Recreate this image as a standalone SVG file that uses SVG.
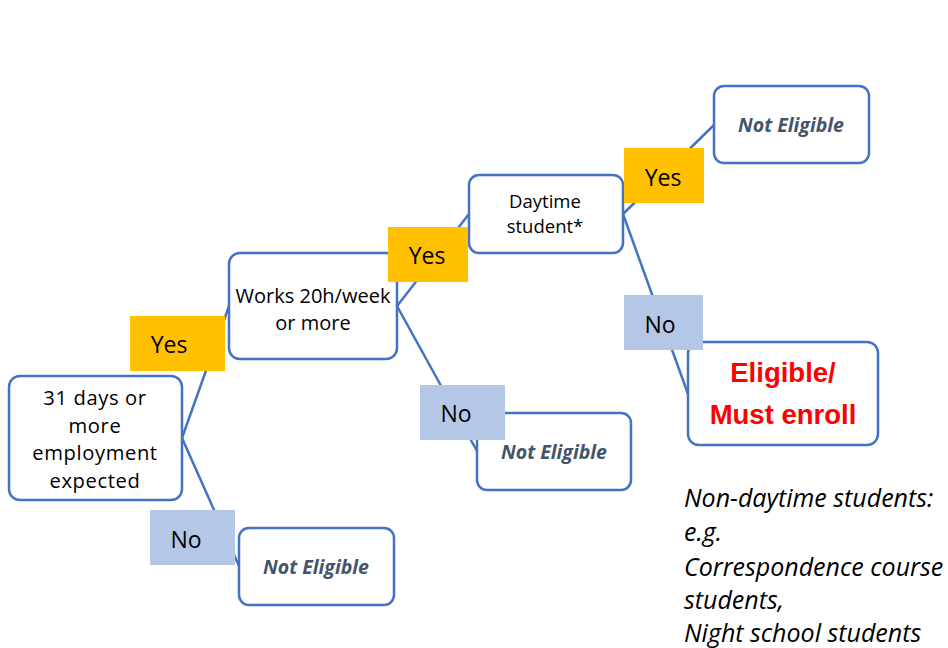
<svg xmlns="http://www.w3.org/2000/svg" width="948" height="648" viewBox="0 0 948 648">
<style>
.box{fill:#fff;stroke:#4472C4;stroke-width:2.5}
.ln{stroke:#4472C4;stroke-width:2.5;fill:none}
.t{font-family:"Open Sans","Liberation Sans",sans-serif;fill:#000;text-anchor:middle}
.ne{font-family:"Open Sans","Liberation Sans",sans-serif;font-weight:bold;font-style:italic;fill:#44546A;font-size:19.5px;text-anchor:middle}
.yes{fill:#FFC000}
.no{fill:#B4C7E7}
.lbl{font-family:"Open Sans","Liberation Sans",sans-serif;font-size:23px;fill:#000;text-anchor:middle}
.el{font-family:"Liberation Sans",Arial,sans-serif;font-weight:bold;font-size:27.5px;fill:#FF0000;text-anchor:middle}
.note{font-family:"Open Sans","Liberation Sans",sans-serif;font-style:italic;font-size:25px;fill:#000}
</style>
<rect width="948" height="648" fill="#fff"/>
<g id="connectors">
<line class="ln" x1="182" y1="438" x2="229" y2="306"/>
<line class="ln" x1="182" y1="438" x2="239" y2="566"/>
<line class="ln" x1="397" y1="306" x2="469" y2="214"/>
<line class="ln" x1="397" y1="306" x2="477" y2="451"/>
<line class="ln" x1="623" y1="214" x2="714" y2="125"/>
<line class="ln" x1="623" y1="214" x2="688" y2="394"/>
</g>
<g id="n-employment">
<rect class="box" x="9" y="376" width="173" height="124" rx="11"/>
<text class="t" font-size="20.2" letter-spacing="0.6"><tspan x="95" y="405">31 days or</tspan><tspan x="95" y="432.5">more</tspan><tspan x="95" y="460">employment</tspan><tspan x="95" y="487.5">expected</tspan></text>
</g>
<g id="n-works">
<rect class="box" x="229" y="253" width="168" height="106" rx="11"/>
<text class="t" font-size="20"><tspan x="313" y="303">Works 20h/week</tspan><tspan x="313" y="330">or more</tspan></text>
</g>
<g id="n-daytime">
<rect class="box" x="469" y="175" width="154" height="78" rx="10"/>
<text class="t" font-size="18.5"><tspan x="545" y="207.5">Daytime</tspan><tspan x="545" y="233">student*</tspan></text>
</g>
<g id="n-ne-top">
<rect class="box" x="714" y="86" width="155" height="77" rx="10"/>
<text class="ne" x="791" y="132">Not Eligible</text>
</g>
<g id="n-eligible">
<rect class="box" x="688" y="342" width="190" height="103" rx="11"/>
<text class="el"><tspan x="783" y="382">Eligible/</tspan><tspan x="783" y="424">Must enroll</tspan></text>
</g>
<g id="n-ne-mid">
<rect class="box" x="477" y="413" width="154" height="77" rx="10"/>
<text class="ne" x="554" y="459">Not Eligible</text>
</g>
<g id="n-ne-bottom">
<rect class="box" x="239" y="528" width="155" height="77" rx="10"/>
<text class="ne" x="316" y="574">Not Eligible</text>
</g>
<g id="labels">
<rect class="yes" x="130" y="316" width="95" height="55"/>
<text class="lbl" x="169" y="353">Yes</text>
<rect class="no" x="150" y="510" width="85" height="55"/>
<text class="lbl" x="186" y="548">No</text>
<rect class="yes" x="388" y="227" width="80" height="55"/>
<text class="lbl" x="427" y="264">Yes</text>
<rect class="no" x="420" y="385" width="85" height="55"/>
<text class="lbl" x="456" y="422">No</text>
<rect class="yes" x="624" y="148" width="80" height="55"/>
<text class="lbl" x="663" y="186">Yes</text>
<rect class="no" x="624" y="295" width="79" height="55"/>
<text class="lbl" x="660" y="333">No</text>
</g>
<g id="note">
<text class="note"><tspan x="684" y="507">Non-daytime students:</tspan><tspan x="684" y="541">e.g.</tspan><tspan x="684" y="576">Correspondence course</tspan><tspan x="684" y="609">students,</tspan><tspan x="684" y="642">Night school students</tspan></text>
</g>
</svg>
